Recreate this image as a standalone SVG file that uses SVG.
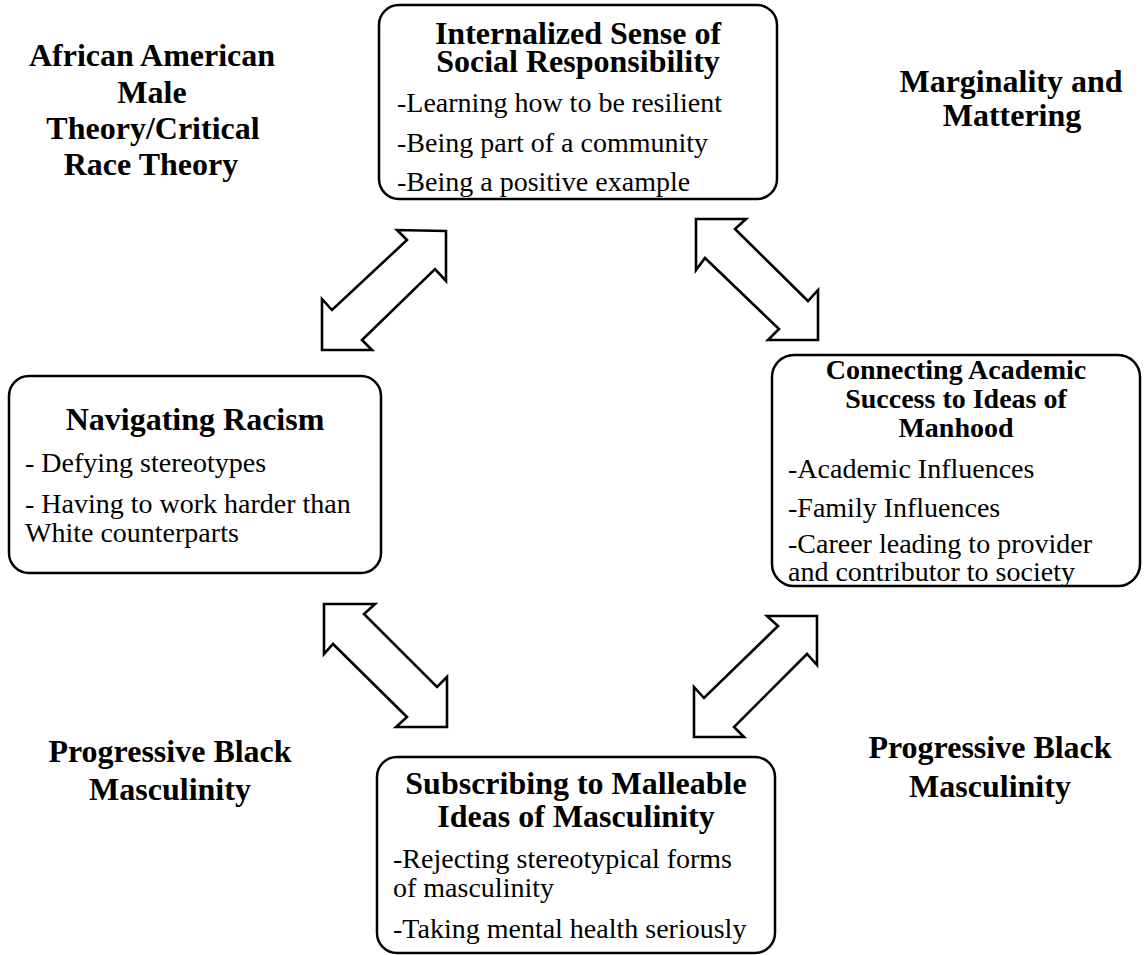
<svg xmlns="http://www.w3.org/2000/svg" width="1146" height="955" viewBox="0 0 1146 955">
<style>
.box{fill:#fff;stroke:#000;stroke-width:2.5}
.arr{fill:#fff;stroke:#000;stroke-width:2.6;stroke-linejoin:miter}
text{font-family:"Liberation Serif","Times New Roman",serif;fill:#000}
.t{font-size:32px;font-weight:bold;text-anchor:middle}
.ts{font-size:28px;font-weight:bold;text-anchor:middle}
.b{font-size:28px}
</style>
<rect width="1146" height="955" fill="#fff"/>
<g id="label-aamt">
<text class="t" x="152" y="66">African American</text>
<text class="t" x="152" y="103">Male</text>
<text class="t" x="153" y="139">Theory/Critical</text>
<text class="t" x="151" y="175">Race Theory</text>
</g>
<g id="label-marginality">
<text class="t" x="1011" y="92">Marginality and</text>
<text class="t" x="1012" y="126">Mattering</text>
</g>
<g id="label-pbm-left">
<text class="t" x="170" y="762">Progressive Black</text>
<text class="t" x="170" y="800">Masculinity</text>
</g>
<g id="label-pbm-right">
<text class="t" x="990" y="758">Progressive Black</text>
<text class="t" x="990" y="797">Masculinity</text>
</g>
<g id="node-social">
<rect class="box" x="379" y="5" width="398" height="194" rx="20"/>
<text class="t" x="578" y="44">Internalized Sense of</text>
<text class="t" x="578" y="72">Social Responsibility</text>
<text class="b" x="397" y="112">-Learning how to be resilient</text>
<text class="b" x="397" y="152">-Being part of a community</text>
<text class="b" x="397" y="191">-Being a positive example</text>
</g>
<g id="node-racism">
<rect class="box" x="9" y="376" width="372" height="197" rx="20"/>
<text class="t" x="195" y="430">Navigating Racism</text>
<text class="b" x="25" y="472">- Defying stereotypes</text>
<text class="b" x="25" y="513">- Having to work harder than</text>
<text class="b" x="25" y="542">White counterparts</text>
</g>
<g id="node-manhood">
<rect class="box" x="772" y="355" width="368" height="231" rx="22"/>
<text class="ts" x="956" y="379">Connecting Academic</text>
<text class="ts" x="956" y="408">Success to Ideas of</text>
<text class="ts" x="956" y="437">Manhood</text>
<text class="b" x="788" y="478">-Academic Influences</text>
<text class="b" x="788" y="517">-Family Influences</text>
<text class="b" x="788" y="553">-Career leading to provider</text>
<text class="b" x="788" y="581">and contributor to society</text>
</g>
<g id="node-masculinity">
<rect class="box" x="377" y="757" width="398" height="196" rx="20"/>
<text class="t" x="576" y="794">Subscribing to Malleable</text>
<text class="t" x="576" y="827">Ideas of Masculinity</text>
<text class="b" x="393" y="868">-Rejecting stereotypical forms</text>
<text class="b" x="393" y="897">of masculinity</text>
<text class="b" x="393" y="938">-Taking mental health seriously</text>
</g>
<g id="connectors">
<polygon class="arr" points="446,231 397,230 407,240 332,310 322,299 322,350 372,350 362,340 435,269 446,281"/>
<polygon class="arr" points="696,219 746,219 735,229 808,301 818,290 818,340 768,340 779,329 705,258 696,270"/>
<polygon class="arr" points="324,604 375,604 364,614 437,687 447,677 447,727 396,727 407,717 333,644 324,654"/>
<polygon class="arr" points="817,616 767,616 778,626 704,698 694,687 694,737 744,737 734,727 807,654 817,665"/>
</g>
</svg>
